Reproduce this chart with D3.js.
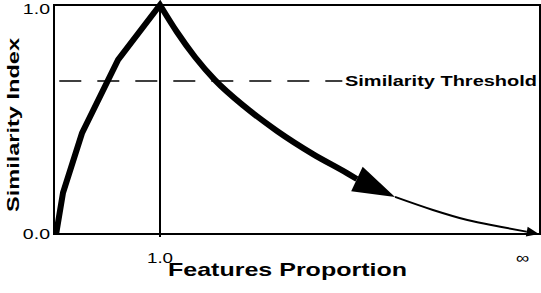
<!DOCTYPE html>
<meta charset="utf-8">
<style>
body { margin: 0; background: #fff; }
svg { display: block; }
text { font-family: "Liberation Sans", Arial, Helvetica, sans-serif; fill: #000; }
.title { font-weight: bold; }
.tick { font-size: 15px; }
.frame { fill: none; stroke: #000; stroke-width: 2px; }
.curve { fill: none; stroke: #000; stroke-width: 6px; stroke-linejoin: miter; }
.tail { fill: none; stroke: #000; stroke-width: 2px; }
.threshold { stroke: #000; stroke-width: 1.6px; stroke-dasharray: 22 16; }
</style>
<body>
<script src="https://cdn.jsdelivr.net/npm/d3@7"></script>
<script>

// rising part (polyline), up to the peak at 1.0
var riseX = [0.02, 0.085, 0.264, 0.604, 1.0];
var riseY = [0.0, 0.18, 0.44, 0.76, 1.0];

// falling part (thick), ends at the base of the big arrow
var fallX = [1.0, 1.16, 1.33, 1.519, 1.802, 2.104, 2.443, 2.764, 2.858];
var fallY = [1.0, 0.882, 0.773, 0.672, 0.555, 0.450, 0.349, 0.266, 0.240];

// thin tail, from the big arrow tip down to the small arrow tip
var tailX = [3.217, 3.575, 3.9, 4.21, 4.46, 4.575];
var tailY = [0.162, 0.105, 0.061, 0.032, 0.01, 0.0];

var threshold = 0.668;
var yTicks = [0, 1];
var yTickLabels = ["0.0", "1.0"];
var xTicks = [1, 4.42];
var xTickLabels = ["1.0", "\u221e"];

var width = 541, height = 293;

var x = d3.scaleLinear().domain([0, 4.585]).range([54, 540]);
var y = d3.scaleLinear().domain([0, 1]).range([234, 5]);

var svg = d3.select("body").append("svg")
    .attr("width", width)
    .attr("height", height);

function stretch(sel, k) {
    sel.each(function() {
        var w = this.getComputedTextLength();
        d3.select(this).attr("textLength", w * k).attr("lengthAdjust", "spacingAndGlyphs");
    });
}

/* ------- FRAME -------*/
svg.append("rect")
    .attr("class", "frame")
    .attr("x", x.range()[0])
    .attr("y", y.range()[1])
    .attr("width", x.range()[1] - x.range()[0])
    .attr("height", y.range()[0] - y.range()[1]);

// vertical line at 1.0
svg.append("line")
    .attr("x1", x(1)).attr("x2", x(1))
    .attr("y1", y(1)).attr("y2", y(0) + 3)
    .attr("stroke", "#000")
    .attr("stroke-width", 2);

/* ------- THRESHOLD -------*/
svg.append("line")
    .attr("class", "threshold")
    .attr("x1", x(0.05)).attr("x2", x(2.72))
    .attr("y1", y(threshold)).attr("y2", y(threshold));

svg.append("text")
    .attr("class", "title")
    .attr("x", 345)
    .attr("y", y(threshold))
    .attr("dy", "0.36em")
    .style("font-size", "15px")
    .attr("textLength", 192)
    .attr("lengthAdjust", "spacingAndGlyphs")
    .text("Similarity Threshold");

/* ------- TICK LABELS -------*/
svg.append("g").selectAll("text")
    .data(yTicks)
    .enter().append("text")
    .attr("class", "tick")
    .attr("x", x.range()[0] - 4)
    .attr("y", function(d) { return y(d); })
    .attr("dy", function(d) { return d === 1 ? "0.62em" : "0.32em"; })
    .attr("text-anchor", "end")
    .text(function(d, i) { return yTickLabels[i]; })
    .call(stretch, 1.3);

svg.append("g").selectAll("text")
    .data(xTicks)
    .enter().append("text")
    .attr("class", "tick")
    .attr("x", function(d) { return x(d); })
    .attr("y", y(0) + 29)
    .attr("text-anchor", "middle")
    .text(function(d, i) { return xTickLabels[i]; })
    .call(stretch, 1.25);

/* ------- AXIS TITLES -------*/
svg.append("text")
    .attr("class", "title")
    .attr("x", 168)
    .attr("y", 276)
    .style("font-size", "19px")
    .attr("textLength", 239)
    .attr("lengthAdjust", "spacingAndGlyphs")
    .text("Features Proportion");

svg.append("text")
    .attr("class", "title")
    .attr("transform", "translate(19,212) rotate(-90)")
    .style("font-size", "17px")
    .attr("textLength", 174)
    .attr("lengthAdjust", "spacingAndGlyphs")
    .text("Similarity Index");

/* ------- CURVE -------*/
var rise = riseX.map(function(d, i) { return [d, riseY[i]]; });
var fall = fallX.map(function(d, i) { return [d, fallY[i]]; });
var tail = tailX.map(function(d, i) { return [d, tailY[i]]; });

var riseLine = d3.line().x(function(d) { return x(d[0]); }).y(function(d) { return y(d[1]); });
var fallLine = d3.line().x(function(d) { return x(d[0]); }).y(function(d) { return y(d[1]); })
    .curve(d3.curveMonotoneX);

svg.append("path")
    .attr("class", "curve")
    .attr("d", riseLine(rise.slice(0, -1)) + fallLine(fall).replace(/^M/, "L"));

// thin tail up to the base of the small arrow
svg.append("path")
    .attr("class", "tail")
    .attr("d", fallLine(tail.slice(0, -1)));

function arrowHead(from, to, half) {
    var x0 = x(from[0]), y0 = y(from[1]), x1 = x(to[0]), y1 = y(to[1]);
    var dx = x1 - x0, dy = y1 - y0, len = Math.sqrt(dx * dx + dy * dy);
    var nx = -dy / len * half, ny = dx / len * half;
    return "M" + (x0 + nx) + "," + (y0 + ny) + "L" + x1 + "," + y1 + "L" + (x0 - nx) + "," + (y0 - ny) + "Z";
}

svg.append("path")
    .attr("d", arrowHead(fall[fall.length - 1], tail[0], 13.5))
    .attr("fill", "#000");

svg.append("path")
    .attr("d", arrowHead(tail[tail.length - 2], tail[tail.length - 1], 5))
    .attr("fill", "#000");

</script>
</body>
